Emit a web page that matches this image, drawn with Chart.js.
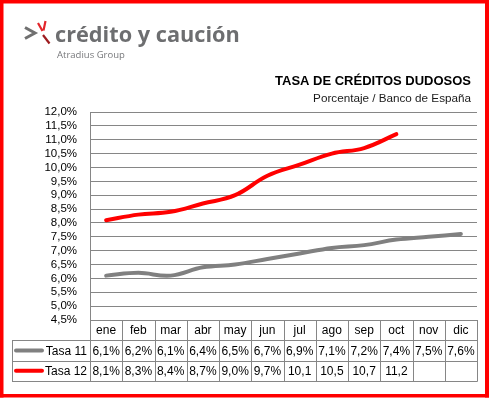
<!DOCTYPE html>
<html>
<head>
<meta charset="utf-8">
<script src="https://cdn.jsdelivr.net/npm/chart.js@4/dist/chart.umd.min.js"></script>
<style>
  html, body { margin: 0; padding: 0; background: #ffffff; }
  #c { display: block; }
</style>
</head>
<body>
<canvas id="c" width="490" height="398"></canvas>
<script>
// ---- Data ----
const months = ['ene','feb','mar','abr','may','jun','jul','ago','sep','oct','nov','dic'];
const tasa11 = [6.1, 6.2, 6.1, 6.4, 6.5, 6.7, 6.9, 7.1, 7.2, 7.4, 7.5, 7.6];
const tasa12 = [8.1, 8.3, 8.4, 8.7, 9.0, 9.7, 10.1, 10.5, 10.7, 11.2, null, null];
const seriesNames = ['Tasa 11', 'Tasa 12'];
const seriesColors = ['#808080', '#ff0000'];
const yMin = 4.5, yMax = 12.0, yStep = 0.5;
const titleText = 'TASA DE CRÉDITOS DUDOSOS';
const subtitleText = 'Porcentaje / Banco de España';
const logoText = 'crédito y caución';
const logoSub = 'Atradius Group';

const FONT = "'Liberation Sans', Arial, sans-serif";
const GRID = '#868686';

function fmtAxis(v) { return v.toFixed(1).replace('.', ',') + '%'; }
function fmtCell(v) {
  if (v === null || v === undefined) return '';
  return v >= 10 ? v.toFixed(1).replace('.', ',') : v.toFixed(1).replace('.', ',') + '%';
}
function fitSize(ctx, text, weight, family, target) {
  ctx.font = weight + ' 20px ' + family;
  return 20 * target / ctx.measureText(text).width;
}

const decor = {
  id: 'decor',
  afterDraw(chart) {
    const ctx = chart.ctx;
    const ca = chart.chartArea;
    const xs = chart.scales.x;
    const left = ca.left, right = ca.right;
    const colW = (right - left) / months.length;
    const r0 = ca.bottom, rh = 20.3;
    const r1 = r0 + rh, r2 = r1 + rh, r3 = r2 + rh;
    const tableLeft = 12;
    ctx.save();

    // table grid
    ctx.strokeStyle = GRID;
    ctx.lineWidth = 1;
    ctx.beginPath();
    const hl = (y, x0) => { const yy = Math.round(y) + 0.5; ctx.moveTo(x0, yy); ctx.lineTo(right + 0.5, yy); };
    hl(r1, tableLeft); hl(r2, tableLeft); hl(r3, tableLeft);
    for (let i = 0; i <= months.length; i++) {
      const x = Math.round(left + i * colW) + 0.5;
      ctx.moveTo(x, r0); ctx.lineTo(x, Math.round(r3) + 0.5);
    }
    ctx.moveTo(tableLeft + 0.5, Math.round(r1) + 0.5);
    ctx.lineTo(tableLeft + 0.5, Math.round(r3) + 0.5);
    ctx.stroke();

    // table text
    ctx.fillStyle = '#000';
    ctx.font = '12px ' + FONT;
    ctx.textAlign = 'center';
    ctx.textBaseline = 'middle';
    months.forEach((m, i) => {
      const cx = xs.getPixelForValue(i);
      ctx.fillText(m, cx, (r0 + r1) / 2 + 1);
      ctx.fillText(fmtCell(tasa11[i]), cx, (r1 + r2) / 2 + 1);
      ctx.fillText(fmtCell(tasa12[i]), cx, (r2 + r3) / 2 + 1);
    });
    // legend keys
    [r1, r2].forEach((rt, k) => {
      const cy = rt + rh / 2;
      ctx.strokeStyle = seriesColors[k];
      ctx.lineWidth = 4;
      ctx.lineCap = 'round';
      ctx.beginPath();
      ctx.moveTo(16, cy); ctx.lineTo(42, cy);
      ctx.stroke();
      ctx.fillStyle = '#000';
      ctx.textAlign = 'right';
      ctx.fillText(seriesNames[k], 87, cy + 1);
    });

    // title + subtitle
    ctx.textAlign = 'right';
    ctx.textBaseline = 'alphabetic';
    ctx.fillStyle = '#000';
    let s = fitSize(ctx, titleText, 'bold', FONT, 196);
    ctx.font = 'bold ' + s + 'px ' + FONT;
    ctx.fillText(titleText, 471, 85);
    s = fitSize(ctx, subtitleText, 'normal', FONT, 158);
    ctx.fillStyle = '#1a1a1a';
    ctx.font = 'normal ' + s + 'px ' + FONT;
    ctx.fillText(subtitleText, 471, 101.5);

    // logo mark
    ctx.strokeStyle = '#707070';
    ctx.lineWidth = 3;
    ctx.lineCap = 'butt';
    ctx.lineJoin = 'miter';
    ctx.beginPath();
    ctx.moveTo(25, 27.5); ctx.lineTo(35, 33); ctx.lineTo(25, 38.5);
    ctx.stroke();
    ctx.lineWidth = 2.2;
    ctx.strokeStyle = '#e3262b';
    ctx.beginPath();
    ctx.moveTo(38, 23); ctx.lineTo(42.5, 31);
    ctx.moveTo(45.5, 21); ctx.lineTo(43.5, 30.5);
    ctx.stroke();
    ctx.strokeStyle = '#9e1b1f';
    ctx.beginPath();
    ctx.moveTo(43, 35); ctx.lineTo(49.5, 43.5);
    ctx.stroke();

    // logo text
    ctx.textAlign = 'left';
    ctx.fillStyle = '#6d6e70';
    const LF = "'Open Sans', 'Noto Sans', sans-serif";
    s = fitSize(ctx, logoText, 'bold', LF, 185);
    ctx.font = 'bold ' + s + 'px ' + LF;
    ctx.fillText(logoText, 55, 41.5);
    s = fitSize(ctx, logoSub, 'normal', LF, 68);
    ctx.fillStyle = '#77787b';
    ctx.font = 'normal ' + s + 'px ' + LF;
    ctx.fillText(logoSub, 57, 58);

    // red frame
    ctx.fillStyle = '#ff0000';
    ctx.fillRect(0, 0, 489, 3.5);
    ctx.fillRect(0, 0, 3.5, 397.5);
    ctx.fillRect(485, 0, 4, 397.5);
    ctx.fillRect(0, 394, 489, 3.5);
    ctx.restore();
  }
};

new Chart(document.getElementById('c'), {
  type: 'line',
  data: {
    labels: months,
    datasets: [
      { label: seriesNames[0], data: tasa11, borderColor: seriesColors[0], borderWidth: 4,
        pointRadius: 0, tension: 0.4, fill: false, borderCapStyle: 'round', spanGaps: false },
      { label: seriesNames[1], data: tasa12, borderColor: seriesColors[1], borderWidth: 4,
        pointRadius: 0, tension: 0.4, fill: false, borderCapStyle: 'round', spanGaps: false }
    ]
  },
  options: {
    responsive: false,
    animation: false,
    devicePixelRatio: 1,
    layout: { padding: { left: 0, top: 112, right: 13, bottom: 78 } },
    plugins: { legend: { display: false }, tooltip: { enabled: false }, title: { display: false } },
    scales: {
      x: { type: 'category', offset: true, display: false },
      y: {
        min: yMin, max: yMax,
        ticks: { stepSize: yStep, autoSkip: false, callback: v => fmtAxis(v), color: '#000',
                 font: { family: FONT, size: 11.5 }, padding: 13 },
        grid: { color: GRID, drawTicks: false, lineWidth: 1 },
        border: { display: true, color: GRID, width: 1 },
        afterFit: sc => { sc.width = 90; }
      }
    }
  },
  plugins: [decor]
});
</script>
</body>
</html>
